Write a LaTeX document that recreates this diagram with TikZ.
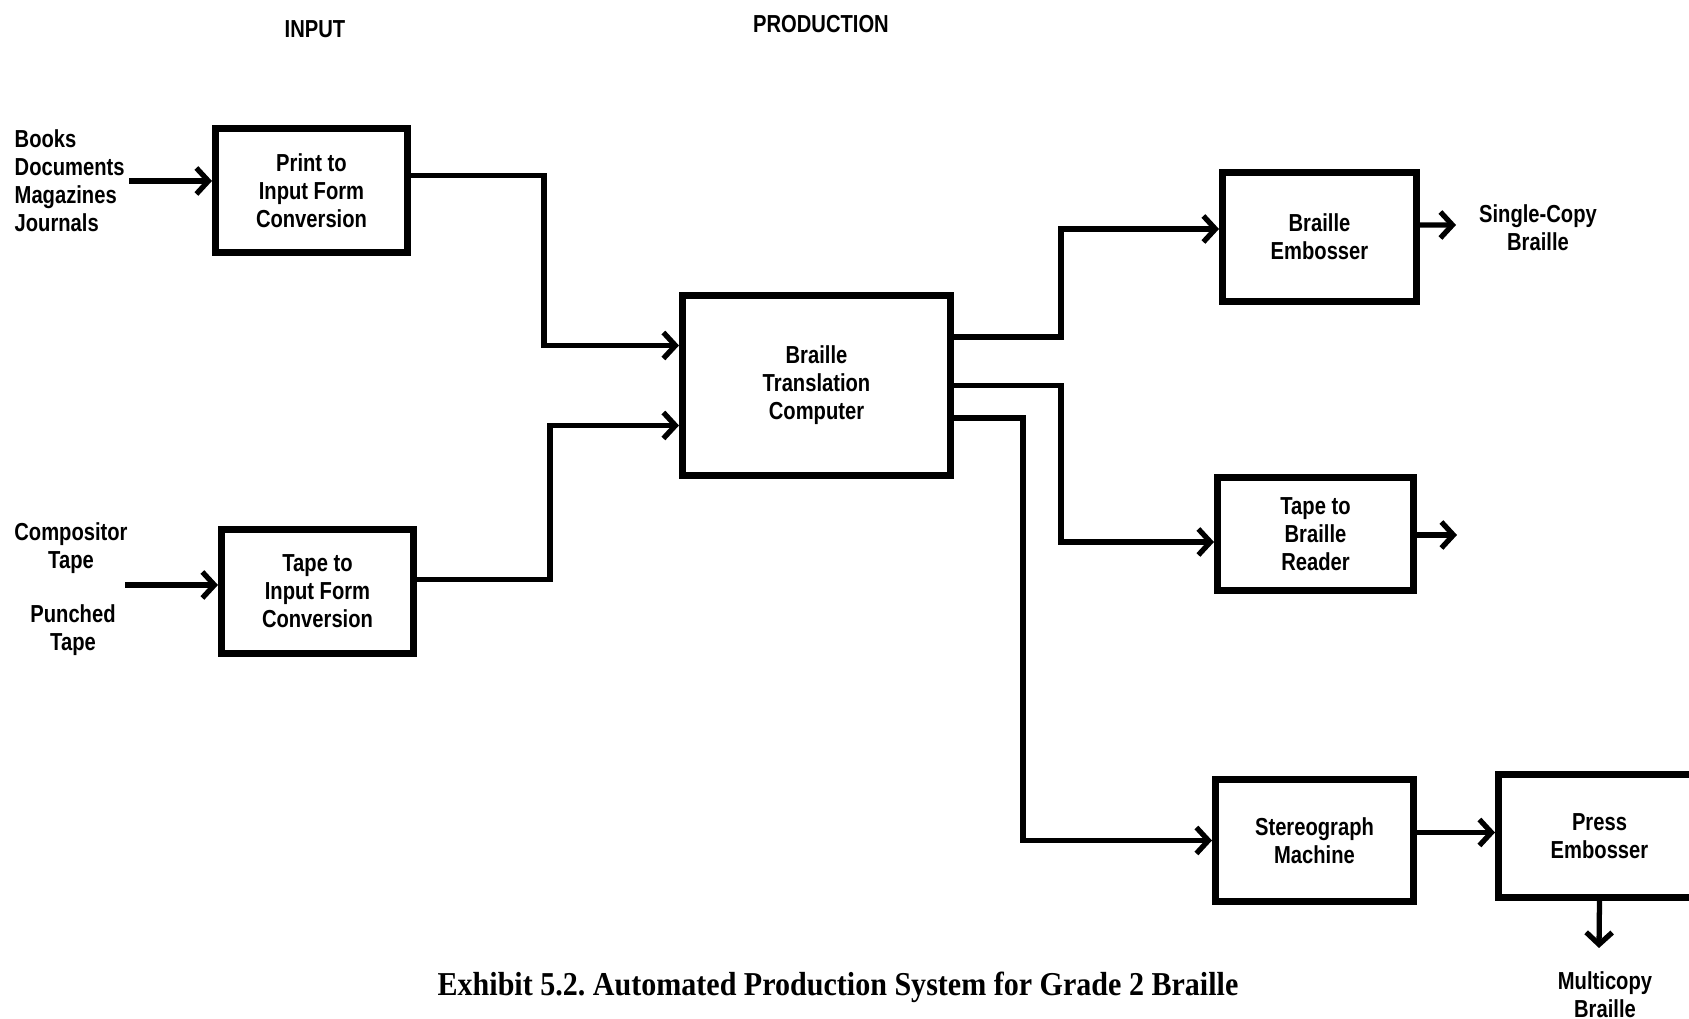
\documentclass[tikz,border=0pt]{standalone}
\usepackage{fontspec}
\setmainfont{Liberation Serif}
\newfontfamily\boxfont[FakeStretch=0.82]{Liberation Sans}
\newfontfamily\capfont[FakeStretch=0.9]{Liberation Serif}
\usetikzlibrary{arrows.meta}

\begin{document}
\begin{tikzpicture}[x=0.1mm, y=-0.1mm,
    box/.style={draw, line width=2pt, inner sep=0, align=center,
        font=\boxfont\bfseries\fontsize{7}{8}\selectfont},
    tag/.style={inner sep=0, align=center,
        font=\boxfont\bfseries\fontsize{7}{8}\selectfont},
    flow/.style={line width=1.5pt, -{Straight Barb[length=1.2mm,width=2.6mm]}},
    wire/.style={line width=1.5pt}]
    \useasboundingbox (0,0) rectangle (1689,1019);

    % column heads
    \node[tag] (headin) at (315,29) {INPUT};
    \node[tag] (headprod) at (821,24) {PRODUCTION};

    % sources
    \node[tag, anchor=west, align=left] (printsrc) at (14,181) {Books\\Documents\\Magazines\\Journals};
    \node[tag] (compsrc) at (71,548) {Compositor\\Tape};
    \node[tag] (punchsrc) at (73,630) {Punched\\Tape};
    \coordinate (tapesrc) at (125,585);

    % boxes
    \node[box, minimum width=19.2mm, minimum height=12.4mm] (print) at (311.5,190.5) {Print to\\Input Form\\Conversion};
    \node[box, minimum width=19.2mm, minimum height=12.4mm] (tapein) at (317.5,591.5) {Tape to\\Input Form\\Conversion};
    \node[box, minimum width=26.8mm, minimum height=18mm] (btc) at (816.5,385.5) {Braille\\Translation\\Computer};
    \node[box, minimum width=19.4mm, minimum height=12.9mm] (embosser) at (1319.5,237) {Braille\\Embosser};
    \node[box, minimum width=19.6mm, minimum height=11.3mm] (reader) at (1315.5,534) {Tape to\\Braille\\Reader};
    \node[box, minimum width=19.8mm, minimum height=12.2mm] (stereo) at (1314.5,840.5) {Stereograph\\Machine};
    \node[box, minimum width=20.2mm, minimum height=12.3mm] (press) at (1599.5,836) {Press\\Embosser};

    % outputs
    \node[tag] (single) at (1538,228) {Single-Copy\\Braille};
    \node[tag] (multi) at (1605,995) {Multicopy\\Braille};
    \coordinate (readerout) at (1457,535);

    \node[inner sep=0, font=\capfont\bfseries\fontsize{9.5}{11}\selectfont] (caption) at (838,987)
        {\frenchspacing Exhibit 5.2. Automated Production System for Grade 2 Braille};

    % ports
    \coordinate (btcinA) at ([yshift=4mm]btc.west);
    \coordinate (btcinB) at ([yshift=-4mm]btc.west);
    \coordinate (embin) at ([yshift=0.8mm]embosser.west);
    \coordinate (readin) at ([yshift=-0.8mm]reader.west);
    \coordinate (bendA) at (544,0);
    \coordinate (bendB) at (550,0);
    \coordinate (bendC) at (1061,0);
    \coordinate (bendD) at (1023,0);

    % connectors
    \draw[flow] (printsrc.east -| 129,0) -- (printsrc.east -| print.west);
    \draw[flow] (tapesrc) -- (tapesrc -| tapein.west);
    \draw[flow] ([yshift=1.5mm]print.east) -| (bendA |- btcinA) -- (btcinA);
    \draw[flow] ([yshift=1.2mm]tapein.east) -| (bendB |- btcinB) -- (btcinB);
    \draw[flow] ([yshift=4.85mm]btc.east) -| (bendC |- embin) -- (embin);
    \draw[flow] (btc.east) -| (bendC |- readin) -- (readin);
    \draw[flow] ([yshift=-3.25mm]btc.east) -| (bendD |- stereo.west) -- (stereo.west);
    \draw[flow] ([yshift=0.8mm]stereo.east) -- ([yshift=0.8mm]stereo.east -| press.west);
    \draw[flow] ([yshift=1.2mm]embosser.east) -- (1456,225);
    \draw[flow] (reader.east |- readerout) -- (readerout);
    \draw[flow] (press.south) -- (1599,948);
\end{tikzpicture}
\end{document}
